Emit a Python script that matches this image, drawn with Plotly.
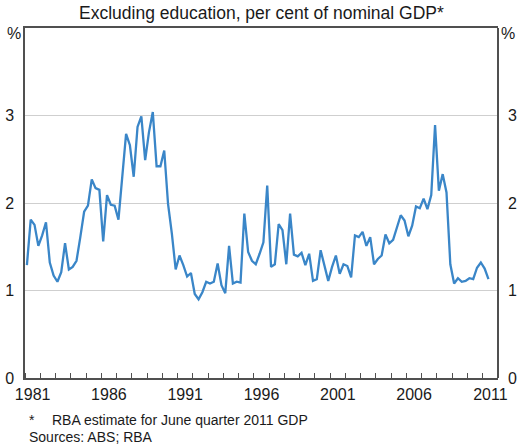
import plotly.graph_objects as go

# Quarterly series, per cent of nominal GDP (March quarter 1981 to June quarter 2011)
start_year = 1981
values = [
    1.29, 1.81, 1.75, 1.51, 1.63, 1.78, 1.32, 1.17, 1.10, 1.21,
    1.54, 1.24, 1.27, 1.34, 1.61, 1.90, 1.97, 2.27, 2.17, 2.15,
    1.56, 2.09, 1.98, 1.97, 1.81, 2.30, 2.79, 2.66, 2.30, 2.87,
    2.99, 2.49, 2.81, 3.04, 2.42, 2.42, 2.60, 1.99, 1.65, 1.24,
    1.40, 1.29, 1.16, 1.20, 0.96, 0.90, 0.98, 1.10, 1.08, 1.10,
    1.31, 1.06, 0.97, 1.51, 1.08, 1.10, 1.09, 1.88, 1.44, 1.34,
    1.30, 1.42, 1.55, 2.20, 1.27, 1.30, 1.76, 1.69, 1.30, 1.88,
    1.41, 1.39, 1.43, 1.29, 1.42, 1.11, 1.13, 1.46, 1.30, 1.11,
    1.27, 1.40, 1.19, 1.30, 1.28, 1.15, 1.63, 1.61, 1.67, 1.51,
    1.61, 1.30, 1.36, 1.40, 1.64, 1.54, 1.58, 1.72, 1.86, 1.80,
    1.62, 1.74, 1.96, 1.94, 2.05, 1.93, 2.09, 2.89, 2.14, 2.33,
    2.12, 1.30, 1.08, 1.14, 1.10, 1.11, 1.14, 1.13, 1.26, 1.32,
    1.25, 1.13,
]
year_labels = ["1981", "1986", "1991", "1996", "2001", "2006", "2011"]
y_ticks = [0, 1, 2, 3]

title_text = "Excluding education, per cent of nominal GDP*"
footnote_text = "RBA estimate for June quarter 2011 GDP"
sources_text = "Sources: ABS; RBA"

# Mid-quarter positions in decimal years
quarters = [start_year + 0.125 + 0.25 * i for i in range(len(values))]
label_pos = [int(y) + 0.5 for y in year_labels]
year_marks = list(range(1981, 2013))

FONT = "Liberation Sans, Arial, sans-serif"
AXIS = "#505050"
GRID = "#cfcfcf"
LINE = "#3a86c8"

fig = go.Figure()
fig.add_trace(go.Scatter(
    x=quarters, y=values, mode="lines",
    line=dict(color=LINE, width=2.3),
    hoverinfo="skip", showlegend=False,
))
# companion trace so the right-hand value axis is drawn
fig.add_trace(go.Scatter(
    x=[None], y=[None], yaxis="y2", mode="lines",
    showlegend=False, hoverinfo="skip",
))

fig.update_layout(
    width=520, height=445,
    margin=dict(l=25, r=22, t=28, b=67, autoexpand=False),
    paper_bgcolor="white", plot_bgcolor="white",
    font=dict(family=FONT, size=16, color="#1a1a1a"),
    xaxis=dict(
        range=[1981, 2012], automargin=False,
        tickvals=label_pos, ticktext=year_labels,
        ticks="", showgrid=False, zeroline=False,
        showline=True, linecolor=AXIS, linewidth=1.5, mirror=True,
        minor=dict(tickvals=year_marks, ticks="inside", ticklen=5,
                   tickcolor=AXIS, tickwidth=1, showgrid=False),
        tickfont=dict(size=16),
        ticklabelstandoff=1,
    ),
    yaxis=dict(
        range=[0, 4], tickvals=y_ticks, automargin=False,
        ticks="", showgrid=True, gridcolor=GRID, gridwidth=1.3,
        zeroline=False, showline=True, linecolor=AXIS, linewidth=1.5,
        tickfont=dict(size=16), ticklabelstandoff=6,
    ),
    yaxis2=dict(
        range=[0, 4], tickvals=y_ticks, overlaying="y", side="right",
        anchor="free", position=1, automargin=False,
        ticks="", showgrid=False, zeroline=False,
        showline=True, linecolor=AXIS, linewidth=1.5,
        tickfont=dict(size=16), ticklabelstandoff=6,
    ),
)

annotations = [
    dict(text=title_text, x=0.5, y=1.043, xref="paper", yref="paper",
         xanchor="center", yanchor="middle", showarrow=False,
         font=dict(size=17.5)),
    dict(text="%", x=-0.0243, y=0.983, xref="paper", yref="paper",
         xanchor="center", yanchor="middle", showarrow=False,
         font=dict(size=16)),
    dict(text="%", x=1.022, y=0.983, xref="paper", yref="paper",
         xanchor="center", yanchor="middle", showarrow=False,
         font=dict(size=16)),
    dict(text="*", x=0.004, y=-0.12, xref="paper", yref="paper",
         xanchor="left", yanchor="middle", showarrow=False,
         font=dict(size=14)),
    dict(text=footnote_text, x=0.053, y=-0.12, xref="paper", yref="paper",
         xanchor="left", yanchor="middle", showarrow=False,
         font=dict(size=14)),
    dict(text=sources_text, x=0.004, y=-0.1686, xref="paper", yref="paper",
         xanchor="left", yanchor="middle", showarrow=False,
         font=dict(size=14)),
]
fig.update_layout(annotations=annotations)

fig.write_html("out.html")
